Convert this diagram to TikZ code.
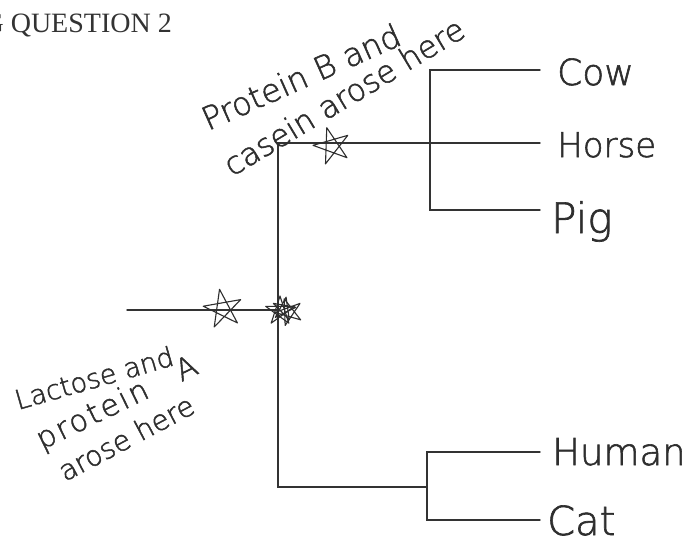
\documentclass[tikz,border=0pt]{standalone}
\usepackage{fontspec}
\setmainfont{Liberation Serif}
\newfontfamily\hand[FakeBold=1.6]{DejaVu Sans ExtraLight}
\definecolor{ink}{HTML}{333333}
\definecolor{pen}{HTML}{2E2E2E}
\tikzset{
  tree/.style={line width=1.4pt, draw=ink, line cap=round, line join=miter},
  leaf/.style={anchor=base west, inner sep=0pt, text=pen},
  note/.style={anchor=base west, inner sep=0pt, text=pen},
  starline/.style={line width=1.1pt, draw=pen, line join=round, line cap=round},
  handstar/.pic={\draw[starline] (90:1) -- (234:1) -- (18:1) -- (162:1) -- (306:1) -- cycle;}
}
\newcommand{\hs}[1]{\hand\fontsize{#1}{#1}\selectfont}
\begin{document}
\begin{tikzpicture}[x=1pt,y=-1pt]
\clip (0,0) rectangle (688,544);
\fill[white] (0,0) rectangle (688,544);

% title
\node[anchor=base east, inner sep=0pt, text=ink, font=\fontsize{28}{30}\selectfont] (title) at (172,32) {G QUESTION 2};

% tree coordinates
\coordinate (root) at (127,310);
\coordinate (A) at (278,310);
\coordinate (Atop) at (278,143);
\coordinate (Abot) at (278,487);
\coordinate (Btop) at (430,70);
\coordinate (Bbot) at (430,210);
\coordinate (C) at (427,487);
\coordinate (Ctop) at (427,452);
\coordinate (Cbot) at (427,520);
\coordinate (cowend) at (540,70);
\coordinate (horseend) at (540,143);
\coordinate (pigend) at (540,210);
\coordinate (humanend) at (540,452);
\coordinate (catend) at (540,520);

% branches
\draw[tree] (root) -- (A);
\draw[tree] (horseend) -- (Atop) -- (Abot) -- (C);
\draw[tree] (cowend) -- (Btop) -- (Bbot) -- (pigend);
\draw[tree] (humanend) -- (Ctop) -- (Cbot) -- (catend);

% leaves
\node[leaf, font=\hs{36}] (cow) at (557,85) {Cow};
\node[leaf, font=\hs{34}] (horse) at (557,157) {Horse};
\node[leaf, font=\hs{42}] (pig) at (551,233) {Pig};
\node[leaf, font=\hs{37}] (human) at (552,465) {Human};
\node[leaf, font=\hs{40}] (cat) at (547,535) {Cat};

% annotations
\node[note, font=\hs{32}, rotate=24] (pb1) at (208,131) {Protein B and};
\node[note, font=\hs{31}, rotate=31] (pb2) at (232,177) {casein arose here};
\node[note, font=\hs{27}, rotate=16] (la1) at (18,410) {Lactose and};
\node[note, font=\hs{30}, rotate=26] (la2) at (42,450) {{\addfontfeature{LetterSpace=8}protein}\hspace{34pt}A};
\node[note, font=\hs{28}, rotate=28] (la3) at (65,482) {arose here};

% stars
\pic[scale=19, rotate=196] at (332,146) {handstar};
\pic[scale=20, rotate=190] at (223,309) {handstar};
\pic[scale=15, rotate=180] at (280,311) {handstar};
\pic[scale=14, rotate=200] at (289,312) {handstar};
\pic[scale=12, rotate=170] at (284,309) {handstar};
\end{tikzpicture}
\end{document}
